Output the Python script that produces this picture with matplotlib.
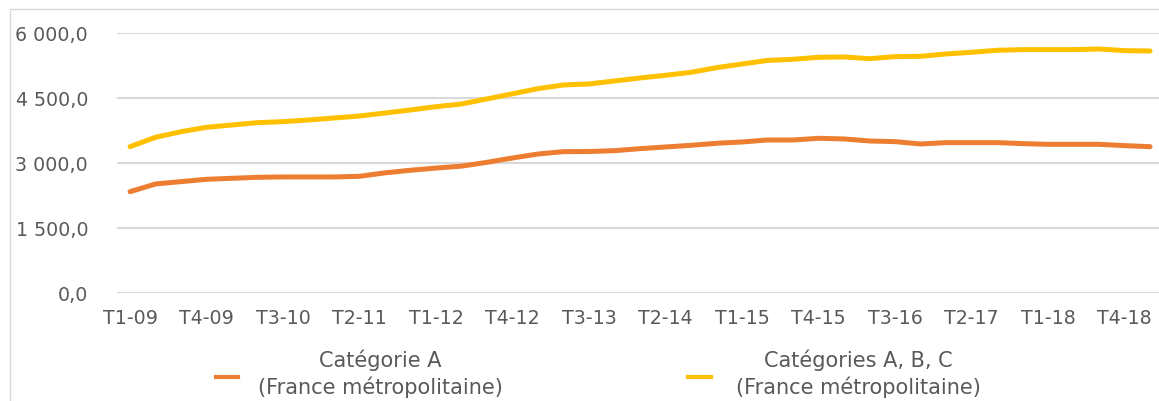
import matplotlib
matplotlib.use("Agg")
import matplotlib.pyplot as plt
from matplotlib.lines import Line2D
from matplotlib.patches import Rectangle
from matplotlib.ticker import FuncFormatter

quarters = [
    "T1-09", "T2-09", "T3-09", "T4-09",
    "T1-10", "T2-10", "T3-10", "T4-10",
    "T1-11", "T2-11", "T3-11", "T4-11",
    "T1-12", "T2-12", "T3-12", "T4-12",
    "T1-13", "T2-13", "T3-13", "T4-13",
    "T1-14", "T2-14", "T3-14", "T4-14",
    "T1-15", "T2-15", "T3-15", "T4-15",
    "T1-16", "T2-16", "T3-16", "T4-16",
    "T1-17", "T2-17", "T3-17", "T4-17",
    "T1-18", "T2-18", "T3-18", "T4-18",
    "T1-19",
]

cat_a = [
    2345, 2523, 2577, 2631, 2654, 2677, 2685, 2685, 2685, 2700,
    2780, 2840, 2890, 2935, 3023, 3123, 3215, 3269, 3272, 3292,
    3338, 3377, 3415, 3462, 3492, 3538, 3538, 3577, 3562, 3515,
    3500, 3446, 3477, 3477, 3477, 3454, 3438, 3438, 3438, 3408,
    3384,
]

cat_abc = [
    3384, 3600, 3730, 3831, 3884, 3938, 3961, 4000, 4046, 4092,
    4160, 4231, 4307, 4369, 4486, 4604, 4723, 4808, 4831, 4900,
    4969, 5031, 5100, 5207, 5292, 5375, 5400, 5446, 5454, 5415,
    5461, 5469, 5523, 5562, 5608, 5623, 5623, 5623, 5638, 5600,
    5592,
]

series_labels = [
    "Catégorie A\n(France métropolitaine)",
    "Catégories A, B, C\n(France métropolitaine)",
]
series_colors = ["#ED7D31", "#FFC000"]

yticks = [0, 1500, 3000, 4500, 6000]

W, H = 1159, 401
fig = plt.figure(figsize=(W / 100, H / 100), dpi=100)
fig.patch.set_facecolor("white")

# chart border
fig.patches.append(Rectangle((10 / W, -0.1), 1.2, 1.1 - 9 / H, transform=fig.transFigure,
                             fill=False, edgecolor="#d9d9d9", linewidth=1.0))

left_px, right_px = 117.3, 117.3 + 41 * 25.5
top_px, bot_px = 33.3, 293.3
ax = fig.add_axes([left_px / W, 1 - bot_px / H, (right_px - left_px) / W, (bot_px - top_px) / H])
ax.set_facecolor("none")

x = list(range(len(quarters)))
ax.plot(x, cat_a, color=series_colors[0], linewidth=3.6, solid_capstyle="round",
        solid_joinstyle="round", zorder=3)
ax.plot(x, cat_abc, color=series_colors[1], linewidth=3.6, solid_capstyle="round",
        solid_joinstyle="round", zorder=3)

ax.set_xlim(-0.5, len(quarters) - 0.5)
ax.set_ylim(0, 6000)
ax.set_yticks(yticks)


def fmt(v, pos):
    s = f"{v:,.1f}"
    return s.replace(",", " ").replace(".", ",")


ax.yaxis.set_major_formatter(FuncFormatter(fmt))
tick_idx = list(range(0, len(quarters), 3))
ax.set_xticks(tick_idx)
ax.set_xticklabels([quarters[i] for i in tick_idx])

ax.grid(axis="y", color="#d9d9d9", linewidth=1.5, zorder=0)
ax.set_axisbelow(True)
for s in ax.spines.values():
    s.set_visible(False)
ax.tick_params(axis="both", length=0, labelsize=13.7, labelcolor="#595959")
ax.tick_params(axis="x", pad=11)
ax.tick_params(axis="y", pad=21)

# legend (manual placement)
legend_items = [
    # (marker x0, x1, text centre x) in pixels
    (216, 238, 380),
    (688, 711, 858),
]
for (x0, x1, tx), lab, col in zip(legend_items, series_labels, series_colors):
    fig.lines.append(Line2D([x0 / W, x1 / W], [1 - 377 / H, 1 - 377 / H], transform=fig.transFigure,
                            color=col, linewidth=3.0))
    fig.text(tx / W, 1 - 374 / H, lab, ha="center", va="center", multialignment="center",
             fontsize=15, color="#595959", linespacing=1.3)

fig.savefig("out.png", dpi=100, facecolor="white")
